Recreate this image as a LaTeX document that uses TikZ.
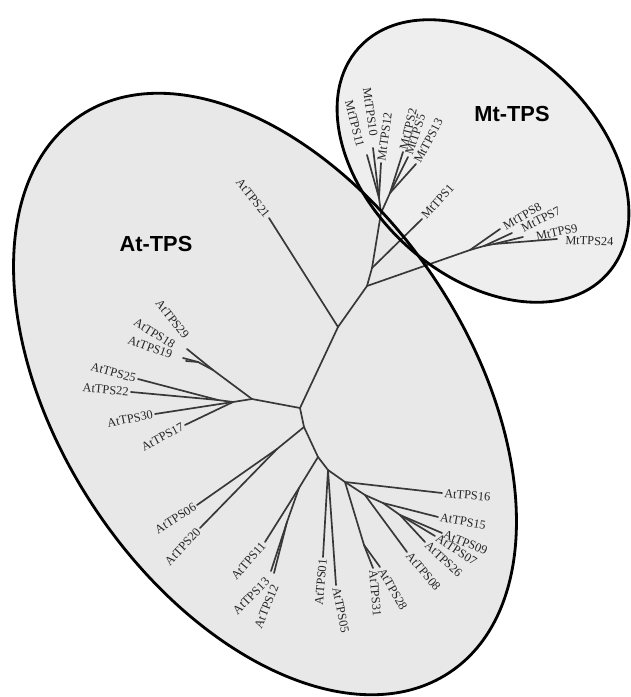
\documentclass[tikz,border=0pt]{standalone}
\usepackage{fontspec}
\setmainfont{Liberation Serif}
\newfontfamily\headfont{Liberation Sans}
\usepackage{tikz}
\definecolor{atgray}{RGB}{232,232,232}
\definecolor{mtgray}{RGB}{238,238,238}
\tikzstyle{branch} = [line width=1.2pt, draw=black!78, line cap=round]
\tikzstyle{leafR} = [anchor=west, inner sep=1.5pt, text=black!85,
font=\fontsize{8.8}{10}\selectfont]
\tikzstyle{leafL} = [anchor=east, inner sep=1.5pt, text=black!85,
font=\fontsize{8.8}{10}\selectfont]
\tikzstyle{clade} = [font=\headfont\bfseries\fontsize{15.5}{18}\selectfont]
\tikzstyle{border} = [line width=2pt, draw=black]

\begin{document}
\begin{tikzpicture}[x=0.025cm, y=-0.025cm]
\useasboundingbox (0,0) rectangle (631,697);
\fill[white] (0,0) rectangle (631,697);

% the two groups
\fill[mtgray, rotate around={-42.5:(483,161)}] (483,161) ellipse [x radius=4.2cm, y radius=2.85cm];
\fill[atgray, rotate around={-56.5:(265,394)}] (265,394) ellipse [x radius=8.35cm, y radius=5.125cm];

% inner nodes
\coordinate (A) at (300,408);
\coordinate (B) at (338,327);
\coordinate (C) at (252,399);
\coordinate (C1) at (213,370);
\coordinate (C2) at (198,362);
\coordinate (D) at (233,402);
\coordinate (D1) at (218,400);
\coordinate (E) at (304,427);
\coordinate (E1) at (277,449);
\coordinate (F) at (318,457);
\coordinate (F1) at (299,488);
\coordinate (F2) at (287,522);
\coordinate (G) at (328,470);
\coordinate (H) at (345,482);
\coordinate (H1) at (364,545);
\coordinate (J) at (365,495);
\coordinate (K) at (383,503);
\coordinate (K1) at (400,515);
\coordinate (M1) at (367,286);
\coordinate (M2) at (470,250);
\coordinate (M2b) at (484,246);
\coordinate (M2c) at (494,244);
\coordinate (M3) at (372,268);
\coordinate (M4) at (381,213);
\coordinate (M5) at (379,198);
\coordinate (M6) at (390,193);

% leaves
\coordinate (At29) at (187,349);
\coordinate (At18) at (183,358);
\coordinate (At19) at (186,361);
\coordinate (At25) at (138,379);
\coordinate (At22) at (131,392);
\coordinate (At30) at (155,414);
\coordinate (At17) at (185,425);
\coordinate (At21) at (269,218);
\coordinate (At06) at (197,505);
\coordinate (At20) at (200,528);
\coordinate (At11) at (265,542);
\coordinate (At13) at (271,571);
\coordinate (At12) at (274,573);
\coordinate (At01) at (323,557);
\coordinate (At05) at (336,585);
\coordinate (At31) at (373,568);
\coordinate (At28) at (380,567);
\coordinate (At08) at (407,552);
\coordinate (At26) at (425,542);
\coordinate (At07) at (435,536);
\coordinate (At09) at (442,533);
\coordinate (At15) at (438,517);
\coordinate (At16) at (442,493);
\coordinate (Mt11) at (367,155);
\coordinate (Mt10) at (373,148);
\coordinate (Mt12) at (381,163);
\coordinate (Mt2) at (403,152);
\coordinate (Mt5) at (408,157);
\coordinate (Mt13) at (416,164);
\coordinate (Mt1) at (422,219);
\coordinate (Mt8) at (500,229);
\coordinate (Mt7) at (512,233);
\coordinate (Mt9) at (523,237);
\coordinate (Mt24) at (557,239);

% branches
\draw[branch](A) -- (B);
\draw[branch](A) -- (C);
\draw[branch](A) -- (E);
\draw[branch](B) -- (At21);
\draw[branch](B) -- (M1);
\draw[branch](C) -- (C1);
\draw[branch](C1) -- (At29);
\draw[branch](C1) -- (C2);
\draw[branch](C2) -- (At18);
\draw[branch](C2) -- (At19);
\draw[branch](C) -- (D);
\draw[branch](D) -- (D1);
\draw[branch](D1) -- (At25);
\draw[branch](D1) -- (At22);
\draw[branch](D) -- (At30);
\draw[branch](D) -- (At17);
\draw[branch](E) -- (E1);
\draw[branch](E1) -- (At06);
\draw[branch](E1) -- (At20);
\draw[branch](E) -- (F);
\draw[branch](F) -- (F1);
\draw[branch](F1) -- (At11);
\draw[branch](F1) -- (F2);
\draw[branch](F2) -- (At13);
\draw[branch](F2) -- (At12);
\draw[branch](F) -- (G);
\draw[branch](G) -- (At01);
\draw[branch](G) -- (At05);
\draw[branch](G) -- (H);
\draw[branch](H) -- (At16);
\draw[branch](H) -- (H1);
\draw[branch](H1) -- (At31);
\draw[branch](H1) -- (At28);
\draw[branch](H) -- (J);
\draw[branch](J) -- (At08);
\draw[branch](J) -- (K);
\draw[branch](K) -- (At15);
\draw[branch](K) -- (K1);
\draw[branch](K1) -- (At09);
\draw[branch](K1) -- (At07);
\draw[branch](K1) -- (At26);
\draw[branch](M1) -- (M2);
\draw[branch](M2) -- (Mt8);
\draw[branch](M2) -- (M2b);
\draw[branch](M2b) -- (Mt7);
\draw[branch](M2b) -- (M2c);
\draw[branch](M2c) -- (Mt9);
\draw[branch](M2c) -- (Mt24);
\draw[branch](M1) -- (M3);
\draw[branch](M3) -- (Mt1);
\draw[branch](M3) -- (M4);
\draw[branch](M4) -- (M5);
\draw[branch](M5) -- (Mt11);
\draw[branch](M5) -- (Mt10);
\draw[branch](M5) -- (Mt12);
\draw[branch](M4) -- (M6);
\draw[branch](M6) -- (Mt2);
\draw[branch](M6) -- (Mt5);
\draw[branch](M6) -- (Mt13);

% labels
\node[leafL, rotate=-52](labAt29) at (188,339){AtTPS29};
\node[leafL, rotate=-32](labAt18) at (176,347){AtTPS18};
\node[leafL, rotate=-20](labAt19) at (174,356){AtTPS19};
\node[leafL, rotate=-15](labAt25) at (At25){AtTPS25};
\node[leafL, rotate=-5](labAt22) at (At22){AtTPS22};
\node[leafL, rotate=11](labAt30) at (At30){AtTPS30};
\node[leafL, rotate=28](labAt17) at (At17){AtTPS17};
\node[leafL, rotate=-51](labAt21) at (At21){AtTPS21};
\node[leafL, rotate=32](labAt06) at (At06){AtTPS06};
\node[leafL, rotate=47](labAt20) at (At20){AtTPS20};
\node[leafL, rotate=49](labAt11) at (At11){AtTPS11};
\node[leafL, rotate=45](labAt13) at (269,578){AtTPS13};
\node[leafL, rotate=68](labAt12) at (276,583){AtTPS12};
\node[leafL, rotate=85](labAt01) at (At01){AtTPS01};
\node[leafR, rotate=-79](labAt05) at (At05){AtTPS05};
\node[leafR, rotate=-85](labAt31) at (At31){AtTPS31};
\node[leafR, rotate=-60](labAt28) at (At28){AtTPS28};
\node[leafR, rotate=-50](labAt08) at (At08){AtTPS08};
\node[leafR, rotate=-43](labAt26) at (At26){AtTPS26};
\node[leafR, rotate=-33](labAt07) at (At07){AtTPS07};
\node[leafR, rotate=-22](labAt09) at (At09){AtTPS09};
\node[leafR, rotate=-10](labAt15) at (At15){AtTPS15};
\node[leafR, rotate=-5](labAt16) at (At16){AtTPS16};
\node[leafL, rotate=-76](labMt11) at (361,149){MtTPS11};
\node[leafL, rotate=-82](labMt10) at (374,138){MtTPS10};
\node[leafR, rotate=82](labMt12) at (Mt12){MtTPS12};
\node[leafR, rotate=77](labMt2) at (Mt2){MtTPS2};
\node[leafR, rotate=72](labMt5) at (Mt5){MtTPS5};
\node[leafR, rotate=62](labMt13) at (Mt13){MtTPS13};
\node[leafR, rotate=48](labMt1) at (Mt1){MtTPS1};
\node[leafR, rotate=30](labMt8) at (502,228){MtTPS8};
\node[leafR, rotate=27](labMt7) at (520,230){MtTPS7};
\node[leafR, rotate=12](labMt9) at (534,237){MtTPS9};
\node[leafR, rotate=-2](labMt24) at (563,240){MtTPS24};

\node[clade](atGroup) at (156,244){At-TPS};
\node[clade](mtGroup) at (512,114){Mt-TPS};

% outlines on top
\draw[border, rotate around={-42.5:(483,161)}] (483,161) ellipse [x radius=4.2cm, y radius=2.85cm];
\draw[border, rotate around={-56.5:(265,394)}] (265,394) ellipse [x radius=8.35cm, y radius=5.125cm];

\end{tikzpicture}
\end{document}
